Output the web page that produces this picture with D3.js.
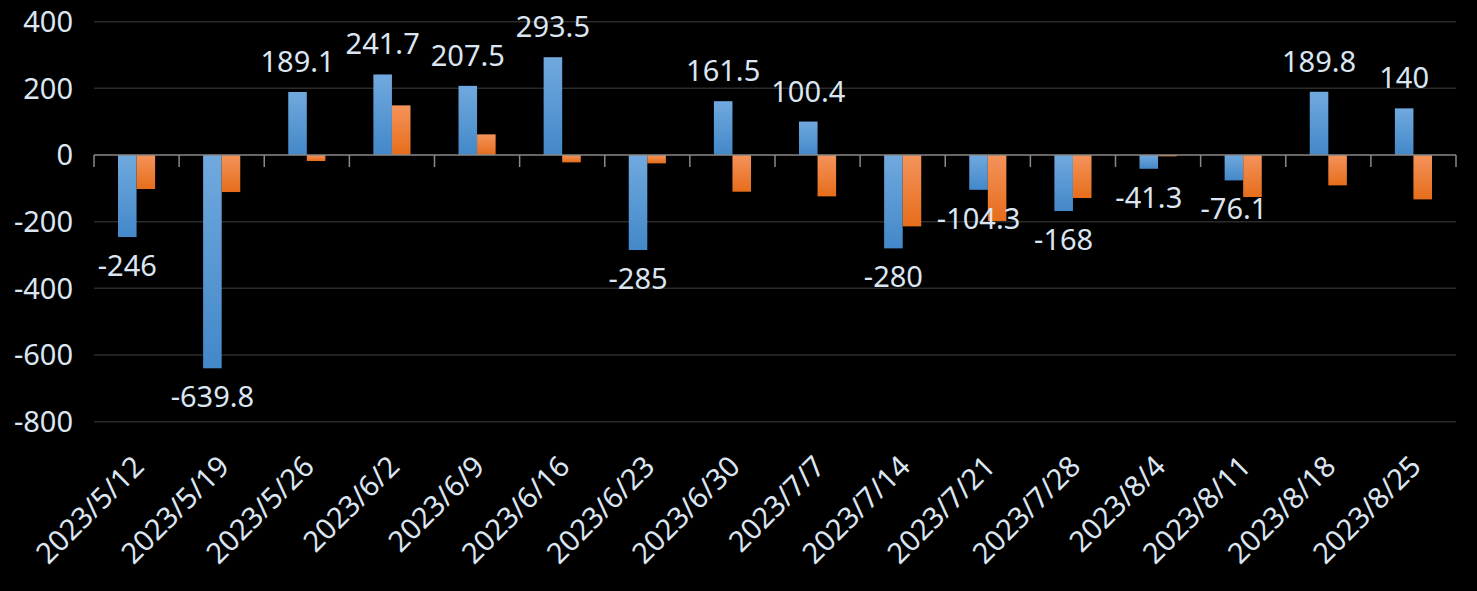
<!DOCTYPE html>
<html><head><meta charset="utf-8">
<script src="https://cdn.jsdelivr.net/npm/d3@7"></script>
<style>html,body{margin:0;padding:0;background:#000;}svg{display:block;}</style>
</head><body>
<svg id="c" width="1477" height="591"></svg>
<script>
const categories = ["2023/5/12","2023/5/19","2023/5/26","2023/6/2","2023/6/9","2023/6/16","2023/6/23","2023/6/30","2023/7/7","2023/7/14","2023/7/21","2023/7/28","2023/8/4","2023/8/11","2023/8/18","2023/8/25"];
const seriesA = [-246,-639.8,189.1,241.7,207.5,293.5,-285,161.5,100.4,-280,-104.3,-168,-41.3,-76.1,189.8,140];
const seriesB = [-102,-111,-18,149,62,-22,-25,-110,-124,-214,-198,-129,-4,-126,-91,-133];
const yTicks = [400,200,0,-200,-400,-600,-800];

(function(){
const svg = d3.select("#c");
const W = 1477, H = 591;
svg.append("rect").attr("width",W).attr("height",H).attr("fill","#000");
const pL = 94, pR = 1456, pT = 21.7, pB = 421.7;
const FONT = "'Noto Sans', 'Open Sans', sans-serif";
const TXT = "#DCE6F2";
const FS = 29;

const x = d3.scaleBand().domain(categories).range([pL,pR]).paddingInner(0).paddingOuter(0);
const y = d3.scaleLinear().domain([-800,400]).range([pB,pT]);
const barW = x.bandwidth()*0.218;

const defs = svg.append("defs");
const gA = defs.append("linearGradient").attr("id","gA").attr("x1",0).attr("y1",0).attr("x2",0).attr("y2",1);
gA.append("stop").attr("offset","0%").attr("stop-color","#70A9DE");
gA.append("stop").attr("offset","100%").attr("stop-color","#4388C9");
const gB = defs.append("linearGradient").attr("id","gB").attr("x1",0).attr("y1",0).attr("x2",0).attr("y2",1);
gB.append("stop").attr("offset","0%").attr("stop-color","#F4935B");
gB.append("stop").attr("offset","100%").attr("stop-color","#E66D1B");

svg.append("g").selectAll("line").data(yTicks.filter(d=>d!==0)).join("line")
  .attr("x1",pL).attr("x2",pR).attr("y1",d=>y(d)).attr("y2",d=>y(d))
  .attr("stroke","#2B2B2B").attr("stroke-width",1.5);

svg.append("g").selectAll("text").data(yTicks).join("text")
  .attr("x",73).attr("y",d=>y(d)).attr("dy","0.35em").attr("text-anchor","end")
  .attr("font-family",FONT).attr("font-size",FS).attr("fill",TXT)
  .text(d=>d);

const gBars = svg.append("g");
gBars.selectAll("rect.a").data(seriesA).join("rect").attr("class","a")
  .attr("x",(d,i)=>x(categories[i])+x.bandwidth()/2-barW)
  .attr("width",barW)
  .attr("y",d=>y(Math.max(0,d))).attr("height",d=>Math.abs(y(d)-y(0)))
  .attr("fill","url(#gA)");
gBars.selectAll("rect.b").data(seriesB).join("rect").attr("class","b")
  .attr("x",(d,i)=>x(categories[i])+x.bandwidth()/2)
  .attr("width",barW)
  .attr("y",d=>y(Math.max(0,d))).attr("height",d=>Math.abs(y(d)-y(0)))
  .attr("fill","url(#gB)");

const xAxis = svg.append("g");
xAxis.append("line").attr("x1",pL).attr("x2",pR).attr("y1",y(0)).attr("y2",y(0))
  .attr("stroke","#898989").attr("stroke-width",1.5);
const bounds = categories.map(c=>x(c)).concat([pR]);
xAxis.selectAll("line.t").data(bounds).join("line").attr("class","t")
  .attr("x1",d=>d).attr("x2",d=>d).attr("y1",y(0)).attr("y2",y(0)+12)
  .attr("stroke","#898989").attr("stroke-width",1.5);

svg.append("g").selectAll("text").data(categories).join("text")
  .attr("transform",d=>`translate(${x(d)+x.bandwidth()/2+2},461) rotate(-45)`)
  .attr("dy","0.35em").attr("text-anchor","end")
  .attr("font-family",FONT).attr("font-size",FS).attr("fill",TXT)
  .text(d=>d);

svg.append("g").selectAll("text").data(seriesA).join("text")
  .attr("x",(d,i)=>x(categories[i])+x.bandwidth()/2-barW/2)
  .attr("y",d=> d>=0 ? y(d)-20 : y(d)+39)
  .attr("text-anchor","middle")
  .attr("font-family",FONT).attr("font-size",FS).attr("fill",TXT)
  .text(d=>d);
})();
</script>
</body></html>
